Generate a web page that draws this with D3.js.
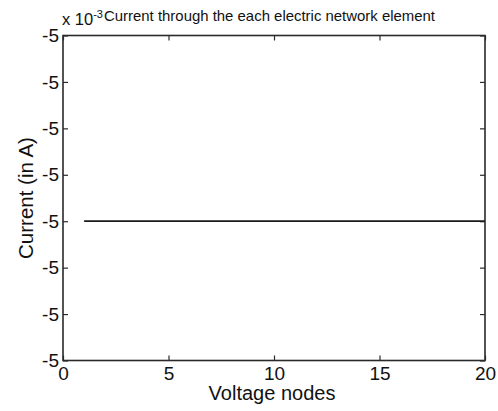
<!DOCTYPE html>
<html>
<head>
<meta charset="utf-8">
<script src="https://cdn.jsdelivr.net/npm/d3@7"></script>
<style>
  html, body { margin: 0; padding: 0; background: #fff; }
  svg { display: block; }
  text { font-family: "Liberation Sans", Arial, Helvetica, sans-serif; fill: #111; }
</style>
</head>
<body>
<svg id="chart" width="498" height="411"></svg>
<script>
// Voltage node index along the network
const nodes = [1, 2, 3, 4, 5, 6, 7, 8, 9, 10, 11, 12, 13, 14, 15, 16, 17, 18, 19, 20];
// Current through each element, in units of 10^-3 A
const current = [-5, -5, -5, -5, -5, -5, -5, -5, -5, -5, -5, -5, -5, -5, -5, -5, -5, -5, -5, -5];

// Axis ticks (y ticks are in units of 10^-3 A; they differ only beyond display precision)
const xTicks = [0, 5, 10, 15, 20];
const yTicks = [-5.000000000003, -5.000000000002, -5.000000000001, -5,
                -4.999999999999, -4.999999999998, -4.999999999997, -4.999999999996];
const yTickLabels = ["-5", "-5", "-5", "-5", "-5", "-5", "-5", "-5"];

const titleText = "Current through the each electric network element";
const xLabel = "Voltage nodes";
const yLabel = "Current (in A)";

const svg = d3.select("#chart");
const m = { left: 63, right: 485, top: 35.5, bottom: 360.5 };

const x = d3.scaleLinear().domain([0, 20]).range([m.left, m.right]);
const y = d3.scaleLinear().domain([yTicks[0], yTicks[yTicks.length - 1]]).range([m.bottom, m.top]);

const axisColor = "#2a2a2a";
const tickLen = 5;
const labelFor = d => yTickLabels[yTicks.indexOf(d)];

// Bottom axis: inward ticks with labels
svg.append("g")
  .attr("transform", `translate(0,${m.bottom})`)
  .call(d3.axisBottom(x).tickValues(xTicks).tickSizeInner(-tickLen).tickSizeOuter(0).tickPadding(7))
  .call(g => g.select(".domain").remove())
  .call(g => g.selectAll(".tick line").attr("stroke", axisColor).attr("stroke-width", 1.2))
  .call(g => g.selectAll(".tick text").attr("font-size", 19).attr("fill", "#111")
    .attr("dy", "0.71em").attr("y", 6));

// Top axis: inward ticks only
svg.append("g")
  .attr("transform", `translate(0,${m.top})`)
  .call(d3.axisTop(x).tickValues(xTicks).tickSizeInner(-tickLen).tickSizeOuter(0).tickFormat(""))
  .call(g => g.select(".domain").remove())
  .call(g => g.selectAll(".tick line").attr("stroke", axisColor).attr("stroke-width", 1.2));

// Left axis: inward ticks with labels
svg.append("g")
  .attr("transform", `translate(${m.left},0)`)
  .call(d3.axisLeft(y).tickValues(yTicks).tickFormat(labelFor).tickSizeInner(-tickLen).tickSizeOuter(0).tickPadding(5))
  .call(g => g.select(".domain").remove())
  .call(g => g.selectAll(".tick line").attr("stroke", axisColor).attr("stroke-width", 1.2))
  .call(g => g.selectAll(".tick text").attr("font-size", 19).attr("fill", "#111").attr("x", -4));

// Right axis: inward ticks only
svg.append("g")
  .attr("transform", `translate(${m.right},0)`)
  .call(d3.axisRight(y).tickValues(yTicks).tickSizeInner(-tickLen).tickSizeOuter(0).tickFormat(""))
  .call(g => g.select(".domain").remove())
  .call(g => g.selectAll(".tick line").attr("stroke", axisColor).attr("stroke-width", 1.2));

// Plot box
svg.append("rect")
  .attr("x", m.left).attr("y", m.top)
  .attr("width", m.right - m.left).attr("height", m.bottom - m.top)
  .attr("fill", "none").attr("stroke", axisColor).attr("stroke-width", 1.6);

// Current line
const line = d3.line().x((d, i) => x(nodes[i])).y(d => y(d));
svg.append("path")
  .datum(current)
  .attr("d", line)
  .attr("fill", "none")
  .attr("stroke", "#1a1a1a")
  .attr("stroke-width", 1.8);

// Exponent multiplier
const mult = svg.append("text").attr("x", 62).attr("y", 25).attr("font-size", 16.5);
mult.append("tspan").text("x 10");
mult.append("tspan").attr("font-size", 11).attr("dy", -7).text("-3");

// Title
svg.append("text")
  .attr("x", 104).attr("y", 20.5)
  .attr("font-size", 14.6)
  .attr("textLength", 331)
  .attr("lengthAdjust", "spacingAndGlyphs")
  .text(titleText);

// Axis labels
svg.append("text")
  .attr("x", (m.left + m.right) / 2 - 2).attr("y", 400)
  .attr("text-anchor", "middle")
  .attr("font-size", 20)
  .text(xLabel);

svg.append("text")
  .attr("transform", `translate(33,198) rotate(-90)`)
  .attr("text-anchor", "middle")
  .attr("font-size", 20.5)
  .text(yLabel);
</script>
</body>
</html>
